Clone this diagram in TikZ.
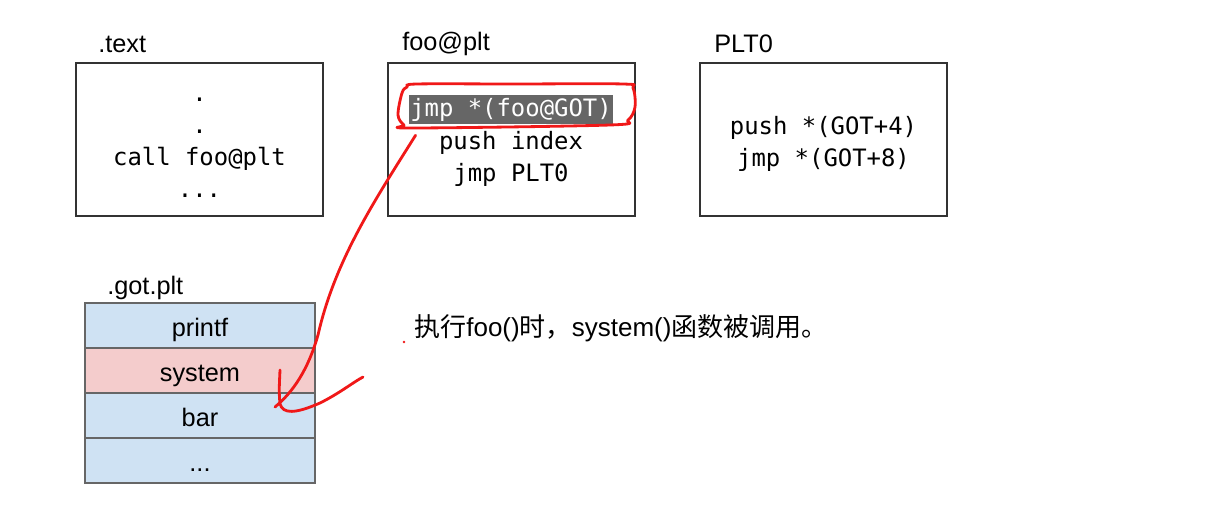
\documentclass[tikz,border=0pt]{standalone}
\usepackage{fontspec}
\setmainfont{Liberation Sans}
\setmonofont{DejaVu Sans Mono}
\newfontfamily\cjk{Noto Sans CJK SC}
\usetikzlibrary{
	positioning				% relative placement
	, calc					% coordinate arithmetic
}
\definecolor{gotblue}{HTML}{CFE2F3}
\definecolor{gotpink}{HTML}{F4CCCC}
\definecolor{hlgray}{HTML}{666666}
\definecolor{penred}{HTML}{F01818}

\begin{document}
\begin{tikzpicture}[
		x=0.025cm, y=-0.025cm
		, secbox/.style={draw=black!80, line width=1pt, minimum width=6.175cm, minimum height=3.825cm, inner sep=0pt}
		, code/.style={font=\ttfamily\fontsize{17}{22.7}\selectfont, align=center}
		, hlcode/.style={code, fill=hlgray, text=white, inner xsep=1pt, inner ysep=0pt, minimum height=0.725cm}
		, sectitle/.style={anchor=west, inner sep=0pt, font=\fontsize{18}{22}\selectfont}
		, gotslot/.style={draw=black!60, line width=1pt, minimum width=5.75cm, minimum height=1.125cm, text height=16pt, text depth=1pt, font=\fontsize{18}{22}\selectfont}
		, remark/.style={anchor=west, inner sep=0pt, font=\fontsize{18.5}{22}\selectfont}
		, pen/.style={draw=penred, line width=2pt, line cap=round, line join=round}
	]
	\useasboundingbox (0,0) rectangle (1214,505);

	% Draw the three code sections
	\node [secbox] (textsec) at (199.5,139.5) {};
	\node [code] (textcode) at (199.5,148) {.\\.\\call foo@plt\\...};
	\node [secbox] (fooplt) at (511.5,139.5) {};
	\node [secbox] (pltzero) at (823.5,139.5) {};
	\node [code] (pltcode) at (823.5,144) {push *(GOT+4)\\jmp *(GOT+8)};

	% Lines of foo@plt, the first one highlighted
	\node [hlcode] (gotjmp) at (511,109.5) {jmp *(foo@GOT)};
	\node [code] (pushidx) at (511,159) {push index\\jmp PLT0};

	% Section titles
	\node [sectitle] (textname) at (98,44) {.text};
	\node [sectitle] (pltname) at (402,44) {foo@plt};
	\node [sectitle] (zeroname) at (714,44) {PLT0};
	\node [sectitle] (gotname) at (107,288) {.got.plt};

	% Loop through the slots of the GOT
	\foreach [count=\i] \slot/\tint in {printf/gotblue, system/gotpink, bar/gotblue, .{}.{}./gotblue} {
		\node [gotslot, fill=\tint] (slot\i) at (200,{280.5+45*\i}) {\slot};
	};

	% Note on the right
	\node [remark] (note) at (414,328) {{\cjk 执行}foo(){\cjk 时，}system(){\cjk 函数被调用。}};
	\fill [penred] (404,342) circle (1.3);

	% Hand drawn ring and arrow
	\draw [pen] plot [smooth cycle, tension=0.55] coordinates {(407,87) (417,84) (513,84) (623,84) (633,88) (635,107) (628,120) (610,125) (413,128) (404,125) (398,115) (402,93)};
	\coordinate (hit) at (275,407);
	\coordinate (barbtop) at (280,370);
	\coordinate (barbend) at (363,377);
	\draw [pen] ($(gotjmp.south west)+(7,11)$) .. controls (375,200) and (335,260) .. (318,335) .. controls (308,370) and (293,392) .. (hit);
	\draw [pen] (barbtop) .. controls (279,392) .. (280,404) .. controls (283,414) and (295,414) .. (320,403) .. controls (340,393) and (352,383) .. (barbend);
\end{tikzpicture}
\end{document}
